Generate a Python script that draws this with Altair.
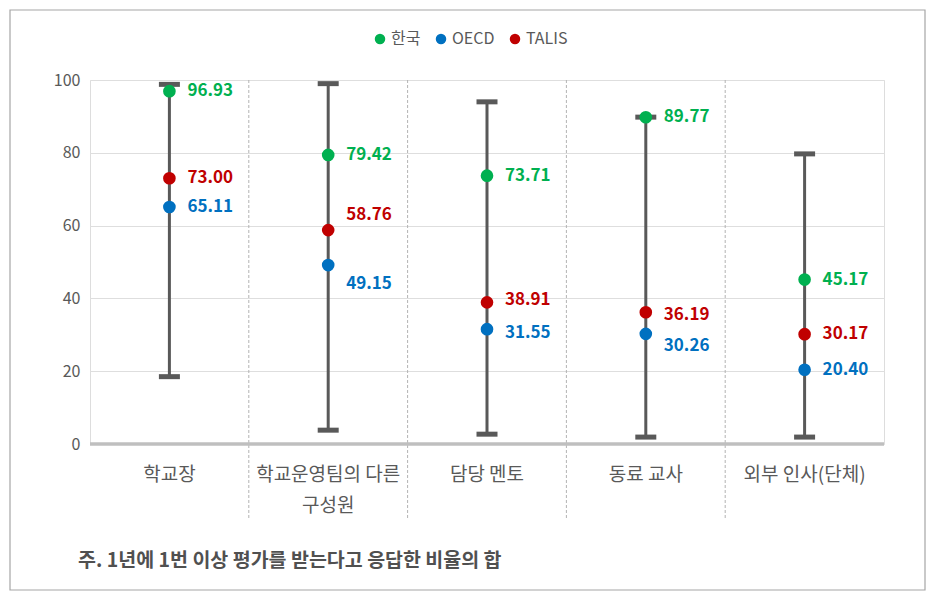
import altair as alt
import pandas as pd

categories = ["학교장", "학교운영팀의 다른 구성원", "담당 멘토", "동료 교사", "외부 인사(단체)"]
series = ["한국", "OECD", "TALIS"]
colors = ["#00b050", "#0070c0", "#c00000"]

korea = [96.93, 79.42, 73.71, 89.77, 45.17]
oecd = [65.11, 49.15, 31.55, 30.26, 20.40]
talis = [73.00, 58.76, 38.91, 36.19, 30.17]

range_min = [18.5, 3.8, 2.7, 1.9, 1.9]
range_max = [98.8, 99.0, 94.0, 89.8, 79.7]

# label vertical nudges (pixels), as placed in the original
korea_dy = [0, 0, 0, 0, 0]
oecd_dy = [0, 19, 4, 12, 0]
talis_dy = [0, -15, -2, 3, 0]

footnote = "주. 1년에 1번 이상 평가를 받는다고 응답한 비율의 합"

FONT = "Noto Sans CJK KR"
PLOT_H = 364

rows = []
for s, vals, dys in zip(series, [korea, oecd, talis], [korea_dy, oecd_dy, talis_dy]):
    for c, v, d in zip(categories, vals, dys):
        rows.append({"category": c, "series": s, "value": v, "dy": d, "label": f"{v:.2f}"})
pts = pd.DataFrame(rows)
rng = pd.DataFrame({"category": categories, "lo": range_min, "hi": range_max})
seps = pd.DataFrame({"category": categories[1:]})

xscale = alt.Scale(domain=categories, paddingInner=0, paddingOuter=0)
yscale = alt.Scale(domain=[0, 100])

x_axis = alt.Axis(
    title=None, ticks=False, domain=False, grid=False,
    labelFontSize=19, labelColor="#595959", labelPadding=21, labelAngle=0,
    labelLineHeight=31, labelFont=FONT,
    labelExpr="datum.value == '학교운영팀의 다른 구성원' ? ['학교운영팀의 다른', '구성원'] : datum.label",
)
y_axis = alt.Axis(
    title=None, ticks=False, domain=False, values=[0, 20, 40, 60, 80, 100],
    grid=True, gridColor="#dedede", gridWidth=1,
    labelFontSize=16, labelColor="#595959", labelPadding=10, labelFont=FONT,
)

X = alt.X("category:N", scale=xscale, sort=categories, axis=x_axis)
color = alt.Color(
    "series:N",
    scale=alt.Scale(domain=series, range=colors),
    sort=series,
    legend=alt.Legend(
        title=None, orient="none", direction="horizontal",
        legendX=282, legendY=-49,
        symbolType="circle", symbolSize=110, symbolStrokeWidth=0,
        labelFontSize=16, labelColor="#595959", labelFont=FONT,
        columnPadding=12, labelOffset=3,
    ),
)

frame = alt.Chart(pd.DataFrame({"a": [0]})).mark_rect(
    fill="transparent", stroke="#a6a6a6", strokeWidth=1.2
).encode(x=alt.value(-80), x2=alt.value(835), y=alt.value(-70), y2=alt.value(510))

note = alt.Chart(pd.DataFrame({"t": [footnote]})).mark_text(
    align="left", baseline="middle", fontSize=19.5, fontWeight="bold", color="#505050",
    font=FONT
).encode(x=alt.value(-12), y=alt.value(481), text="t:N")

separators = alt.Chart(seps).mark_rule(
    color="#b3b3b3", strokeWidth=1, strokeDash=[3, 2]
).encode(
    x=alt.X("category:N", scale=xscale, sort=categories, bandPosition=0, axis=x_axis),
    y=alt.value(0), y2=alt.value(440),
)

base_axis = alt.Chart(rng).mark_rule(opacity=0).encode(
    x=X, y=alt.Y("hi:Q", scale=yscale, axis=y_axis)
)

zero = alt.Chart(pd.DataFrame({"z": [0]})).mark_rule(color="#bfbfbf", strokeWidth=3.5).encode(
    y=alt.Y("z:Q", scale=yscale, axis=y_axis)
)

bars = alt.Chart(rng).mark_rule(color="#595959", strokeWidth=3).encode(
    x=X, y=alt.Y("lo:Q", scale=yscale, axis=y_axis), y2="hi:Q"
)
cap_lo = alt.Chart(rng).mark_tick(color="#595959", thickness=5, size=21, opacity=1).encode(
    x=X, y=alt.Y("lo:Q", scale=yscale, axis=y_axis)
)
cap_hi = alt.Chart(rng).mark_tick(color="#595959", thickness=5, size=21, opacity=1).encode(
    x=X, y=alt.Y("hi:Q", scale=yscale, axis=y_axis)
)

points = alt.Chart(pts).mark_circle(size=160, opacity=1).encode(
    x=X, y=alt.Y("value:Q", scale=yscale, axis=y_axis), color=color
)
labels = alt.Chart(pts).transform_calculate(
    label_y=f"datum.value - datum.dy * 100 / {PLOT_H}"
).mark_text(
    align="left", baseline="middle", dx=18, fontSize=17, fontWeight="bold", font=FONT
).encode(
    x=X,
    y=alt.Y("label_y:Q", scale=yscale, axis=y_axis),
    text="label:N",
    color=alt.Color("series:N", scale=alt.Scale(domain=series, range=colors), legend=None),
)

chart = alt.layer(
    frame, note, base_axis, separators, zero, bars, cap_lo, cap_hi, points, labels
).properties(
    width=794, height=PLOT_H,
    padding={"left": 90, "top": 80, "right": 50, "bottom": 154},
    autosize=alt.AutoSizeParams(type="none"),
).configure_view(stroke=None).configure(background="white")

chart.save("out.html", embed_options={"renderer": "svg", "actions": False})
